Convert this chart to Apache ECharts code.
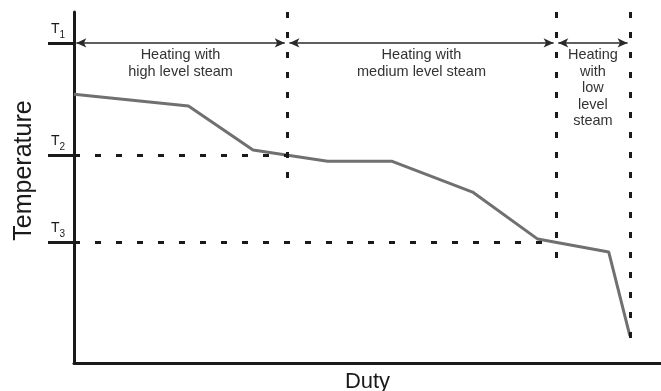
<!DOCTYPE html>
<html>
<head>
<meta charset="utf-8">
<script src="https://cdn.jsdelivr.net/npm/echarts@6/dist/echarts.min.js"></script>
<style>
  html, body { margin: 0; padding: 0; background: #ffffff; }
  #chart { width: 661px; height: 391px; }
</style>
</head>
<body>
<div id="chart"></div>
<script>
// Composite heating curve: temperature against cumulative duty (relative units 0-100)
const duty = [0, 19.5, 30.5, 43.2, 54.1, 67.9, 79.0, 91.1, 94.7];
const temperature = [76.6, 73.2, 60.7, 57.5, 57.5, 48.7, 35.3, 31.6, 7.7];

// Steam temperature levels T1, T2, T3 (same relative scale)
const tLevels = [91.2, 59.3, 34.5];
const tSubscripts = ['1', '2', '3'];

// Duty where each steam stage ends, and how far down its divider is drawn
const stageEnds = [36.3, 82.1, 94.7];
const stageDividerBottom = [50.7, 27.9, 3.7];
const stageLabels = [
  'Heating with\nhigh level steam',
  'Heating with\nmedium level steam',
  'Heating\nwith\nlow\nlevel\nsteam'
];

const INK = '#1a1a1a';
const FONT = '"Liberation Sans", Arial, sans-serif';
const arrowGap = 0.4;

// Dashed guides from each lower steam level out to its stage boundary
const levelGuides = [1, 2].map(i => [
  { coord: [0, tLevels[i]] },
  { coord: [stageEnds[i - 1], tLevels[i]] }
]);

// Dotted vertical stage dividers
const dividers = stageEnds.map((x, i) => [
  { coord: [x, 100], lineStyle: { type: [6, 14] } },
  { coord: [x, stageDividerBottom[i]] }
]);

// Double-headed span arrows at the T1 level, one per stage
const spans = stageEnds.map((end, i) => {
  const start = i === 0 ? 0 : stageEnds[i - 1];
  return [
    { coord: [start + arrowGap, tLevels[0]], label: { formatter: stageLabels[i] } },
    { coord: [end - arrowGap, tLevels[0]] }
  ];
});

const chart = echarts.init(document.getElementById('chart'), null, { renderer: 'canvas' });

chart.setOption({
  backgroundColor: '#ffffff',
  animation: false,
  grid: { left: 74, right: 0, top: 12, bottom: 28, outerBoundsMode: 'none', containLabel: false },
  xAxis: {
    type: 'value', min: 0, max: 100,
    name: 'Duty', nameLocation: 'middle', nameGap: 8,
    nameTextStyle: { fontFamily: FONT, fontSize: 22, color: INK, verticalAlign: 'top' },
    axisLine: { show: true, onZero: false, lineStyle: { color: INK, width: 3 } },
    axisTick: { show: false }, axisLabel: { show: false }, splitLine: { show: false }
  },
  yAxis: {
    type: 'value', min: 0, max: 100,
    name: 'Temperature', nameLocation: 'middle', nameGap: 37, nameRotate: 90,
    nameTextStyle: { fontFamily: FONT, fontSize: 25, color: INK, padding: [0, 0, 0, 34] },
    axisLine: { show: true, onZero: false, lineStyle: { color: INK, width: 3 } },
    axisTick: { show: true, customValues: tLevels, length: 26, inside: false,
      lineStyle: { color: INK, width: 3 } },
    axisLabel: {
      show: true, customValues: tLevels, margin: 9,
      verticalAlign: 'bottom', padding: [0, 0, 3, 0],
      formatter: v => '{t|T}{s|' + tSubscripts[tLevels.indexOf(v)] + '}',
      rich: {
        t: { fontFamily: FONT, fontSize: 14, color: INK, lineHeight: 18, verticalAlign: 'top' },
        s: { fontFamily: FONT, fontSize: 10, color: INK, lineHeight: 18, verticalAlign: 'bottom' }
      }
    },
    splitLine: { show: false }
  },
  series: [
    {
      name: 'guides', type: 'line', data: [], silent: true, z: 1,
      markLine: {
        silent: true, symbol: 'none', animation: false,
        label: { show: false },
        lineStyle: { color: INK, width: 3, type: [6, 15] },
        data: levelGuides.concat(dividers)
      }
    },
    {
      name: 'stages', type: 'line', data: [], silent: true, z: 2,
      markLine: {
        silent: true, animation: false,
        symbol: ['arrow', 'arrow'], symbolSize: [7, 10],
        lineStyle: { color: '#2a2a2a', width: 1.5, type: 'solid' },
        label: {
          show: true, position: 'insideMiddleBottom', distance: 4,
          fontFamily: FONT, fontSize: 14.5, lineHeight: 16.5, color: '#333333',
          align: 'center'
        },
        data: spans
      }
    },
    {
      name: 'Composite curve', type: 'line', z: 3,
      data: duty.map((d, i) => [d, temperature[i]]),
      symbol: 'none', smooth: false,
      lineStyle: { color: '#707070', width: 3 }
    }
  ]
});
</script>
</body>
</html>
